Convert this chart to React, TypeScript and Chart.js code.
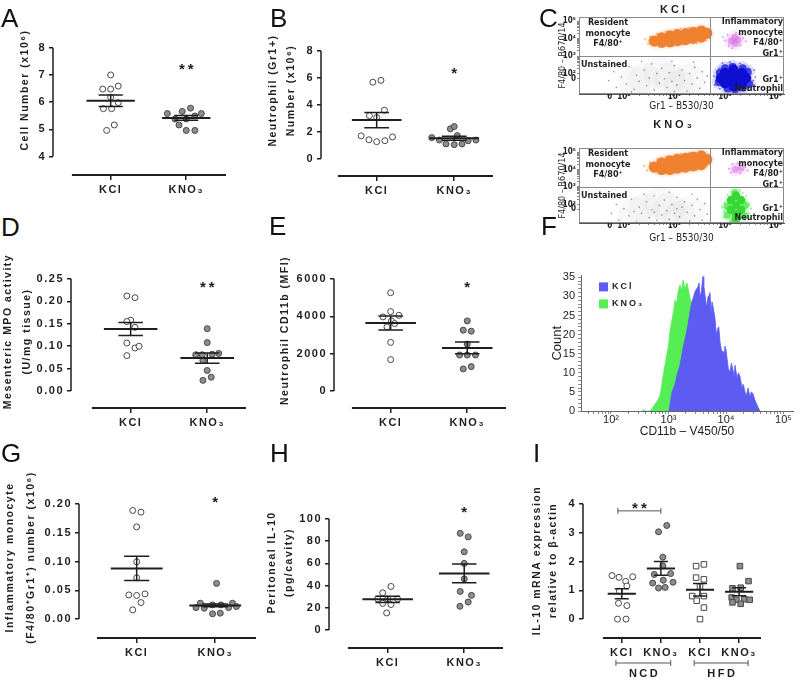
import React, { useEffect, useRef } from 'react';
import { Chart, registerables } from 'chart.js';

Chart.register(...registerables);

const SANS = "'Liberation Sans', Arial, Helvetica, sans-serif";
const NARROW = "'Liberation Sans Narrow', 'DejaVu Sans Condensed', 'Liberation Sans', Arial, sans-serif";
const INK = '#1e1e1e';

// ======================= DATA =======================
const twoGroups = ['KCl', 'KNO₃'];
const fourGroups = ['KCl', 'KNO₃', 'KCl', 'KNO₃'];

// A – peritoneal cell number (x10^6)
const cellKcl = [7.0, 6.48, 6.48, 6.59, 6.18, 5.98, 5.76, 5.76, 5.16, 4.96];
const cellKclJitter = [0, -0.105, 0, 0.1, 0, 0.1, -0.096, 0.013, 0.048, -0.053];
const cellKno3 = [5.58, 5.66, 5.78, 5.58, 5.38, 5.38, 5.49, 5.16, 4.96, 4.96];
const cellKno3Jitter = [-0.25, -0.053, 0.057, 0.2, -0.149, 0, 0.114, -0.096, 0, 0.114];
const cellMean = [6.05, 5.42];
const cellSem = [0.21, 0.09];

// B – neutrophil (Gr1+) number (x10^6)
const neutKcl = [5.66, 5.8, 3.58, 3.18, 3.04, 1.68, 1.39, 1.25, 1.32, 1.6];
const neutKclJitter = [-0.05, 0.055, 0.1, -0.094, 0, -0.2, -0.1, 0, 0.106, 0.205];
const neutKno3 = [2.2, 2.37, 1.7, 1.55, 1.37, 1.08, 1.03, 1.08, 1.32, 1.37];
const neutKno3Jitter = [-0.05, 0, 0.04, -0.29, -0.19, -0.106, 0, 0.1, 0.18, 0.28];
const neutMean = [2.85, 1.51];
const neutSem = [0.57, 0.15];

// D – mesenteric MPO activity (U/mg tissue)
const mpoKcl = [0.212, 0.208, 0.158, 0.155, 0.142, 0.107, 0.096, 0.1, 0.079];
const mpoKclJitter = [-0.05, 0.056, 0, -0.05, 0.056, -0.05, 0.056, 0.11, -0.05];
const mpoKno3 = [0.139, 0.108, 0.081, 0.081, 0.082, 0.084, 0.068, 0.046, 0.024, 0.031];
const mpoKno3Jitter = [0, 0, -0.15, -0.065, 0.065, 0.15, -0.056, 0, -0.056, 0.052];
const mpoMean = [0.1385, 0.0735];
const mpoSem = [0.0145, 0.0115];

// E – neutrophil CD11b (MFI)
const cd11bKcl = [5257, 4248, 3965, 4053, 3752, 3434, 3611, 2602, 1681];
const cd11bKclJitter = [0, 0, -0.1, 0.108, 0.01, -0.048, 0.052, 0, 0];
const cd11bKno3 = [3752, 3257, 3204, 2513, 1929, 1929, 1929, 1186, 1310];
const cd11bKno3Jitter = [0, -0.052, 0.052, 0, -0.1, 0, 0.108, -0.052, 0.052];
const cd11bMean = [3640, 2310];
const cd11bSem = [372, 310];

// G – inflammatory monocyte (F4/80+Gr1+) number (x10^6)
const inflKcl = [0.1885, 0.1856, 0.16, 0.0994, 0.0718, 0.042, 0.041, 0.0437, 0.0287, 0.0161];
const inflKclJitter = [-0.05, 0.055, 0, 0, 0, -0.1, 0, 0.106, 0.055, -0.05];
const inflKno3 = [0.062, 0.0276, 0.0276, 0.019, 0.02, 0.0247, 0.0247, 0.02, 0.0218, 0.0092, 0.0103];
const inflKno3Jitter = [0.017, -0.19, 0.22, -0.14, -0.245, -0.034, 0.072, 0.17, 0.27, -0.034, 0.064];
const inflMean = [0.088, 0.0238];
const inflSem = [0.021, 0.0025];

// H – peritoneal IL-10 (pg/cavity)
const il10Kcl = [39.2, 33.5, 28, 28, 28, 24, 23, 15.4];
const il10KclJitter = [0.043, -0.065, -0.13, 0, 0.13, -0.065, 0.043, -0.013];
const il10Kno3 = [86.9, 83.7, 70.3, 59.9, 46, 34.7, 31.2, 25.2, 21.4];
const il10Kno3Jitter = [-0.052, 0.052, 0, 0, 0, -0.052, 0.095, 0.052, -0.056];
const il10Mean = [27.6, 50.9];
const il10Sem = [2.7, 8.45];

// I – IL-10 mRNA relative to beta-actin (NCD / HFD)
const mrnaNcdKcl = [1.51, 1.45, 1.47, 1.31, 1.15, 0.97, 0.55, 0.47, 0.0, 0.0];
const mrnaNcdKclJitter = [-0.25, -0.07, 0.28, 0.1, 0.13, -0.06, -0.085, 0.13, -0.11, 0.11];
const mrnaNcdKno3 = [3.25, 3.03, 2.15, 1.85, 1.55, 1.35, 1.58, 1.25, 1.28, 1.08, 1.1];
const mrnaNcdKno3Jitter = [0.15, -0.06, 0.05, 0.05, -0.17, 0.06, 0.25, -0.21, 0.31, -0.06, 0.11];
const mrnaHfdKcl = [1.84, 1.9, 1.44, 1.38, 1.13, 0.8, 0.8, 0.64, 0.4, 0.0];
const mrnaHfdKclJitter = [-0.1, 0.1, -0.1, 0.1, 0, -0.2, 0.1, -0.085, 0.1, 0];
const mrnaHfdKno3 = [1.84, 1.32, 1.07, 1.09, 0.75, 0.67, 0.69, 0.67, 0.53, 0.58];
const mrnaHfdKno3Jitter = [0.02, 0.24, -0.17, 0.04, -0.19, -0.07, 0.13, 0.27, 0.04, -0.17];
const mrnaMean = [0.88, 1.76, 1.02, 0.95];
const mrnaSem = [0.17, 0.24, 0.22, 0.14];

// C – flow cytometry events, log10 display units: [Gr1, F4/80]
const flowGateGr1 = 3.7;
const flowGateF480 = 3.0;
const flowTickMajors = [1.72, 2, 3, 4, 5];
const flowTickLabels = ['0', '10²', '10³', '10⁴', '10⁵'];

const kclResidentCore = [[2.6, 3.85], [2.75, 3.78], [2.75, 4.04], [2.91, 3.81], [2.91, 4.15], [3.06, 3.88], [3.06, 4.22], [3.22, 3.94], [3.22, 4.28], [3.37, 4.01], [3.37, 4.35], [3.53, 4.08], [3.53, 4.42], [3.64, 4.3]];
const kclResidentDots = [[2.42, 3.95], [2.48, 3.7], [2.52, 4.12], [2.66, 4.28], [2.7, 3.55], [2.84, 4.42], [2.98, 3.58], [3.02, 4.5], [3.15, 3.65], [3.28, 4.62], [3.45, 3.72], [3.58, 4.68], [3.7, 4.05], [3.68, 4.5], [3.12, 4.58], [3.4, 3.78], [2.58, 3.62], [3.62, 3.9], [2.9, 4.4], [3.5, 4.6]];
const kclInflamCore = [[4.12, 3.85], [4.26, 3.92], [4.19, 4.08], [4.2, 3.72]];
const kclInflamDots = [[4.0, 3.9], [4.36, 4.02], [4.05, 4.22], [4.3, 3.62], [4.08, 3.58], [4.42, 3.85], [4.22, 4.32], [3.96, 4.1], [4.4, 4.2], [4.14, 3.45]];
const kclNeutroCore = [[4.0, 1.45], [4.17, 1.45], [4.34, 1.45], [4.0, 1.74], [4.17, 1.74], [4.34, 1.74], [4.0, 2.03], [4.17, 2.03], [4.34, 2.03], [3.92, 1.74], [4.42, 1.74], [4.17, 2.22], [4.17, 1.28]];
const kclNeutroMid = [[3.88, 1.5], [3.9, 2.05], [4.45, 2.1], [4.48, 1.4], [4.15, 2.38], [4.2, 1.1], [4.05, 1.15], [4.35, 1.2], [4.0, 2.3], [4.35, 2.3]];
const kclNeutroDots = [[3.82, 1.6], [3.85, 2.0], [3.9, 2.3], [4.0, 2.48], [4.2, 2.52], [4.4, 2.38], [4.52, 2.0], [4.56, 1.6], [4.52, 1.25], [4.38, 1.02], [4.1, 0.98], [3.9, 1.12], [3.8, 1.35], [4.6, 1.8], [4.3, 2.58], [3.95, 2.6], [4.46, 1.08], [3.78, 1.85], [4.58, 2.2], [4.1, 2.65]];
const kclUnstainedDots = [[1.7, 1.6], [1.8, 2.1], [1.85, 1.2], [1.95, 1.8], [2.05, 1.4], [2.1, 2.4], [2.2, 1.1], [2.25, 1.9], [2.3, 1.55], [2.4, 2.2], [2.45, 1.3], [2.5, 1.75], [2.55, 2.55], [2.6, 1.05], [2.65, 2.0], [2.7, 1.45], [2.75, 2.3], [2.8, 1.7], [2.85, 1.2], [2.9, 2.05], [2.95, 1.55], [3.0, 2.45], [3.05, 1.35], [3.1, 1.9], [3.15, 2.2], [3.2, 1.6], [3.25, 1.0], [3.3, 2.0], [3.35, 1.4], [3.4, 2.35], [3.45, 1.75], [3.5, 1.15], [3.55, 2.1], [3.6, 1.5], [3.65, 1.85], [2.35, 2.7], [2.95, 2.7], [3.38, 2.65], [2.15, 0.95], [3.0, 0.98]];
const kclUnstainedHaze = [[2.4, 1.7], [2.9, 1.7], [3.3, 1.65], [2.7, 2.1], [3.1, 1.3], [2.2, 1.5]];

const kno3ResidentCore = [[2.6, 4.14], [2.75, 4.0], [2.75, 4.38], [2.91, 4.0], [2.91, 4.5], [3.06, 4.08], [3.06, 4.58], [3.22, 4.14], [3.22, 4.64], [3.37, 4.21], [3.37, 4.71], [3.53, 4.28], [3.53, 4.78], [3.64, 4.57], [3.06, 4.33], [3.22, 4.39], [3.37, 4.46], [2.91, 4.26]];
const kno3ResidentDots = [[2.4, 4.2], [2.46, 3.95], [2.52, 4.4], [2.66, 4.6], [2.7, 3.8], [2.84, 4.75], [2.98, 3.82], [3.02, 4.85], [3.15, 3.9], [3.28, 4.95], [3.45, 3.98], [3.58, 5.0], [3.72, 4.45], [3.68, 4.85], [3.12, 4.9], [3.4, 4.05], [2.58, 3.88], [3.64, 4.2], [2.9, 4.7], [3.5, 4.92]];
const kno3InflamCore = [[4.2, 4.0], [4.32, 4.08]];
const kno3InflamDots = [[4.08, 4.05], [4.4, 4.15], [4.15, 4.3], [4.3, 3.8], [4.12, 3.82], [4.45, 3.95], [4.25, 4.35]];
const kno3NeutroCore = [[4.22, 1.97], [4.12, 1.7], [4.32, 1.7], [4.12, 2.25], [4.32, 2.25], [4.22, 1.45], [4.22, 2.5], [4.22, 1.2]];
const kno3NeutroMid = [[4.05, 1.9], [4.4, 1.95], [4.2, 2.65], [4.18, 1.05], [4.38, 1.35], [4.05, 1.4]];
const kno3NeutroDots = [[3.98, 1.6], [4.0, 2.1], [4.05, 2.55], [4.15, 2.75], [4.3, 2.8], [4.42, 2.5], [4.48, 2.0], [4.46, 1.5], [4.4, 1.15], [4.3, 0.98], [4.1, 1.0], [3.98, 1.25], [4.52, 1.75], [3.95, 1.85], [4.35, 2.65], [4.08, 2.4]];
const kno3UnstainedDots = [[1.75, 1.5], [1.85, 2.0], [1.9, 1.1], [2.0, 1.75], [2.1, 1.35], [2.15, 2.3], [2.25, 1.0], [2.3, 1.85], [2.35, 1.5], [2.45, 2.15], [2.5, 1.25], [2.55, 1.7], [2.6, 2.5], [2.65, 1.1], [2.7, 1.95], [2.75, 1.4], [2.8, 2.25], [2.85, 1.65], [2.9, 1.15], [2.95, 2.0], [3.0, 1.5], [3.05, 2.4], [3.1, 1.3], [3.15, 1.85], [3.2, 2.15], [3.25, 1.55], [3.3, 1.05], [3.35, 1.95], [3.4, 1.35], [3.45, 2.3], [3.5, 1.7], [3.55, 1.1], [3.6, 2.05], [3.65, 1.45], [2.4, 2.6], [2.9, 2.7], [3.35, 2.6], [2.2, 1.6], [2.6, 1.55], [3.05, 1.75]];
const kno3UnstainedHaze = [[2.4, 1.7], [2.9, 1.75], [3.3, 1.6], [2.7, 2.1], [3.1, 1.3], [2.2, 1.5]];

// F – CD11b histogram (fluorescence, count)
const histKclFluor = [1021, 1151, 1298, 1406, 1585, 1787, 2015, 2183, 2366, 2563, 2891, 3260, 3400, 3532, 3700, 3981, 4100, 4313, 4600, 4862, 5000, 5268, 5500, 5708, 6000, 6434, 6800, 7253, 7500, 7863, 8300, 8873, 9200, 9613, 10000, 10410, 11000, 11740, 12400, 13240, 13800, 14350, 15540, 16400, 17520, 18970, 20000, 21380, 22700, 24140, 26140, 27600, 29490, 31950, 34000, 36030, 39020];
const histKclCount = [0, 5, 7, 9.4, 12, 16.4, 20, 22.5, 26, 28.6, 31.2, 32.6, 33.5, 30, 31, 35.2, 33, 30.4, 27, 29.9, 30, 31, 25.5, 28.6, 27, 24.3, 20, 21.7, 22, 18.1, 16, 15.5, 14, 17, 16, 13.8, 11, 10.2, 12.5, 10.7, 9, 12, 8.6, 10, 9, 6, 7, 5, 4, 6, 3.7, 5, 4.5, 2.8, 1.8, 1, 0];
const histKno3Fluor = [360, 400, 477, 537, 630, 711, 750, 802, 869, 941, 1000, 1062, 1151, 1220, 1298, 1380, 1463, 1585, 1700, 1787, 1936, 2098, 2366, 2667, 3007, 3532, 4313, 5268, 6434];
const histKno3Count = [0.4, 0, 0, 1, 2.5, 4, 6, 9, 12, 15, 17, 20.7, 24, 26, 29, 28, 31, 33, 31.5, 34.3, 32, 33.5, 29.6, 27, 22, 15, 8, 3, 0];

// ======================= DOT-PLOT PANELS =======================
const prismPlugin = {
  id: 'prism',
  beforeDraw(chart: any) {
    chart.ctx.letterSpacing = '1.5px';
  },
  afterDatasetsDraw(chart: any, _a: any, o: any) {
    const { ctx, chartArea: ca } = chart;
    const xs = chart.scales.x;
    const ys = chart.scales.y;
    ctx.save();
    ctx.strokeStyle = INK;
    ctx.fillStyle = INK;
    ctx.lineWidth = 1.5;
    ctx.beginPath();
    ctx.moveTo(ca.left, ys.getPixelForValue(o.yTop));
    ctx.lineTo(ca.left, ys.getPixelForValue(o.yBot));
    ctx.stroke();
    ctx.lineWidth = 2;
    ctx.beginPath();
    ctx.moveTo(xs.getPixelForValue(o.xLineMin), ca.bottom);
    ctx.lineTo(ca.right, ca.bottom);
    ctx.stroke();
    for (const s of o.stars) {
      const x1 = xs.getPixelForValue(s.from);
      const x2 = xs.getPixelForValue(s.to);
      const cx = (x1 + x2) / 2;
      const cy = ys.getPixelForValue(s.y);
      ctx.font = `bold 15px ${SANS}`;
      ctx.textAlign = 'center';
      ctx.textBaseline = 'alphabetic';
      ctx.letterSpacing = '3px';
      ctx.fillText(s.text, cx + 1.5, cy + 0.58 * 15);
      if (s.bracket) {
        const by = cy + 7;
        ctx.strokeStyle = '#555';
        ctx.lineWidth = 1;
        ctx.beginPath();
        ctx.moveTo(x1, by - 3); ctx.lineTo(x1, by + 3);
        ctx.moveTo(x1, by); ctx.lineTo(x2, by);
        ctx.moveTo(x2, by - 3); ctx.lineTo(x2, by + 3);
        ctx.stroke();
      }
    }
    for (const g of o.diet || []) {
      const x1 = xs.getPixelForValue(g.from);
      const x2 = xs.getPixelForValue(g.to);
      const by = ca.bottom + 25;
      ctx.strokeStyle = '#555';
      ctx.lineWidth = 1;
      ctx.beginPath();
      ctx.moveTo(x1, by - 3); ctx.lineTo(x1, by + 3);
      ctx.moveTo(x1, by); ctx.lineTo(x2, by);
      ctx.moveTo(x2, by - 3); ctx.lineTo(x2, by + 3);
      ctx.stroke();
      ctx.font = `bold 11px ${SANS}`;
      ctx.textAlign = 'center';
      ctx.textBaseline = 'middle';
      ctx.letterSpacing = '2.5px';
      ctx.fillStyle = INK;
      ctx.fillText(g.text, (x1 + x2) / 2 + 1.25, by + 11);
    }
    ctx.restore();
  },
  afterDraw(chart: any) {
    chart.ctx.letterSpacing = '0px';
  },
};

type Group = { values: number[]; jitter: number[]; filled: boolean; square?: boolean };

function group(values: number[], jitter: number[], filled: boolean, square = false): Group {
  return { values, jitter, filled, square };
}

function buildDot(p: any) {
  const L = p.layout;
  const n = p.cats.length;
  const canvasLeft = Math.floor(L.titleX - L.titleLH / 2 - 2);
  const titlePad = L.titleX - canvasLeft - L.titleLH / 2;
  const canvasTop = Math.max(0, L.chartTop - 4);
  const padTop = L.chartTop - canvasTop;
  const width = L.lineR - canvasLeft + 4;
  const height = L.canvasBottom - canvasTop;
  const yWidth = L.axisX - canvasLeft;
  const xHeight = L.canvasBottom - L.lineY;
  const kx = (L.catNPx - L.cat1Px) / (n - 1);
  const xMin = 1 - (L.cat1Px - L.axisX) / kx;
  const xMax = n + (L.lineR - L.catNPx) / kx;
  const xLineMin = 1 - (L.cat1Px - L.lineL) / kx;
  const yTop = Math.max(...p.yTicks);
  const yBot = Math.min(...p.yTicks);
  const ky = (L.tickBotPx - L.tickTopPx) / (yTop - yBot);
  const yMax = yTop + (L.tickTopPx - L.chartTop) / ky;
  const yMin = yBot - (L.lineY - L.tickBotPx) / ky;

  const make = () => {
    const meanPts: any[] = [];
    const semPts: any[] = [];
    p.groups.forEach((_g: Group, i: number) => {
      const c = i + 1;
      const m = p.mean[i];
      const s = p.sem[i];
      meanPts.push({ x: c - L.meanHalf, y: m }, { x: c + L.meanHalf, y: m }, { x: c, y: null });
      semPts.push(
        { x: c, y: m - s }, { x: c, y: m + s }, { x: c, y: null },
        { x: c - L.capHalf, y: m + s }, { x: c + L.capHalf, y: m + s }, { x: c, y: null },
        { x: c - L.capHalf, y: m - s }, { x: c + L.capHalf, y: m - s }, { x: c, y: null },
      );
    });
    const lineDs = (data: any[], w: number) => ({
      type: 'line', data, showLine: true, spanGaps: false, borderColor: INK, borderWidth: w,
      pointRadius: 0, fill: false, clip: false,
    });
    const dotDs = p.groups.map((g: Group, i: number) => ({
      type: 'scatter',
      data: g.values.map((v, j) => ({ x: i + 1 + g.jitter[j], y: v })),
      pointStyle: g.square ? 'rect' : 'circle',
      pointRadius: g.square ? 3.9 : 3,
      backgroundColor: g.filled ? '#8d8d8d' : '#ffffff',
      borderColor: '#474747',
      borderWidth: 1,
      clip: false,
    }));
    const tickFont = { family: SANS, size: 11, weight: 'bold' };
    return {
      type: 'scatter',
      data: { datasets: [lineDs(meanPts, 2), lineDs(semPts, 1.5), ...dotDs] },
      options: {
        animation: false,
        responsive: false,
        events: [],
        layout: { padding: { top: padTop, right: 4, bottom: 0, left: 0 } },
        plugins: {
          legend: { display: false },
          tooltip: { enabled: false },
          prism: { yTop, yBot, xLineMin, stars: p.stars, diet: p.diet },
        },
        scales: {
          x: {
            type: 'linear', min: xMin, max: xMax, bounds: 'data',
            afterBuildTicks: (s: any) => { s.ticks = p.cats.map((_c: string, i: number) => ({ value: i + 1 })); },
            afterFit: (s: any) => { s.height = xHeight; s.paddingLeft = 0; s.paddingRight = 0; },
            grid: { display: true, drawOnChartArea: false, drawTicks: true, tickLength: 5, color: INK, lineWidth: 1.5 },
            border: { display: false },
            ticks: {
              autoSkip: false, maxRotation: 0, minRotation: 0, padding: 3.4, color: INK, font: tickFont,
              callback: (v: any) => p.cats[Math.round(v) - 1] ?? '',
            },
          },
          y: {
            type: 'linear', min: yMin, max: yMax, bounds: 'data',
            afterBuildTicks: (s: any) => { s.ticks = p.yTicks.map((v: number) => ({ value: v })); },
            afterFit: (s: any) => { s.width = yWidth; s.paddingTop = 0; s.paddingBottom = 0; },
            grid: { display: true, drawOnChartArea: false, drawTicks: true, tickLength: 4, color: INK, lineWidth: 1.5 },
            border: { display: false },
            ticks: {
              autoSkip: false, padding: 3, color: INK, font: tickFont,
              callback: (v: any) => Number(v).toFixed(p.decimals),
            },
            title: {
              display: true, text: p.title, color: INK,
              font: { family: SANS, size: 10.5, weight: 'bold', lineHeight: L.titleLH / 10.5 },
              padding: { top: titlePad, bottom: 0 },
            },
          },
        },
      },
      plugins: [prismPlugin],
    };
  };
  return { rect: { x: canvasLeft, y: canvasTop, w: width, h: height }, make };
}

const panelA = buildDot({
  cats: twoGroups,
  groups: [group(cellKcl, cellKclJitter, false), group(cellKno3, cellKno3Jitter, true)],
  mean: cellMean, sem: cellSem,
  yTicks: [4, 5, 6, 7, 8], decimals: 0,
  title: 'Cell Number (x10⁶)',
  stars: [{ from: 2, to: 2, y: 7.36, text: '**' }],
  layout: { axisX: 53, tickTopPx: 44, tickBotPx: 156, lineY: 175, lineL: 72, lineR: 227, cat1Px: 111, catNPx: 187, chartTop: 0, canvasBottom: 210, titleX: 25, titleLH: 13, meanHalf: 0.32, capHalf: 0.16 },
});

const panelB = buildDot({
  cats: twoGroups,
  groups: [group(neutKcl, neutKclJitter, false), group(neutKno3, neutKno3Jitter, true)],
  mean: neutMean, sem: neutSem,
  yTicks: [0, 2, 4, 6, 8], decimals: 0,
  title: ['Neutrophil (Gr1+)', 'Number (x10⁶)'],
  stars: [{ from: 2, to: 2, y: 6.65, text: '*' }],
  layout: { axisX: 321, tickTopPx: 47, tickBotPx: 158, lineY: 176, lineL: 338, lineR: 494, cat1Px: 377, catNPx: 455, chartTop: 0, canvasBottom: 210, titleX: 273, titleLH: 18, meanHalf: 0.32, capHalf: 0.16 },
});

const panelD = buildDot({
  cats: twoGroups,
  groups: [group(mpoKcl, mpoKclJitter, false), group(mpoKno3, mpoKno3Jitter, true)],
  mean: mpoMean, sem: mpoSem,
  yTicks: [0, 0.05, 0.1, 0.15, 0.2, 0.25], decimals: 2,
  title: ['Mesenteric MPO activity', '(U/mg tissue)'],
  stars: [{ from: 2, to: 2, y: 0.241, text: '**' }],
  layout: { axisX: 71, tickTopPx: 278, tickBotPx: 391, lineY: 408, lineL: 92, lineR: 247, cat1Px: 131, catNPx: 208, chartTop: 254, canvasBottom: 442, titleX: 8, titleLH: 19, meanHalf: 0.35, capHalf: 0.16 },
});

const panelE = buildDot({
  cats: twoGroups,
  groups: [group(cd11bKcl, cd11bKclJitter, false), group(cd11bKno3, cd11bKno3Jitter, true)],
  mean: cd11bMean, sem: cd11bSem,
  yTicks: [0, 2000, 4000, 6000], decimals: 0,
  title: 'Neutrophil CD11b (MFI)',
  stars: [{ from: 2, to: 2, y: 5788, text: '*' }],
  layout: { axisX: 334, tickTopPx: 278, tickBotPx: 391, lineY: 408, lineL: 352, lineR: 507, cat1Px: 391, catNPx: 468, chartTop: 252, canvasBottom: 442, titleX: 285, titleLH: 13, meanHalf: 0.33, capHalf: 0.16 },
});

const panelG = buildDot({
  cats: twoGroups,
  groups: [group(inflKcl, inflKclJitter, false), group(inflKno3, inflKno3Jitter, true)],
  mean: inflMean, sem: inflSem,
  yTicks: [0, 0.05, 0.1, 0.15, 0.2], decimals: 2,
  title: ['Inflammatory monocyte', '(F4/80⁺Gr1⁺) number (x10⁶)'],
  stars: [{ from: 2, to: 2, y: 0.21, text: '*' }],
  layout: { axisX: 79, tickTopPx: 503, tickBotPx: 619, lineY: 638, lineL: 97, lineR: 257, cat1Px: 137, catNPx: 216, chartTop: 476, canvasBottom: 682, titleX: 10, titleLH: 21, meanHalf: 0.33, capHalf: 0.16 },
});

const panelH = buildDot({
  cats: twoGroups,
  groups: [group(il10Kcl, il10KclJitter, false), group(il10Kno3, il10Kno3Jitter, true)],
  mean: il10Mean, sem: il10Sem,
  yTicks: [0, 20, 40, 60, 80, 100], decimals: 0,
  title: ['Peritoneal IL-10', '(pg/cavity)'],
  stars: [{ from: 2, to: 2, y: 109.8, text: '*' }],
  layout: { axisX: 329, tickTopPx: 518, tickBotPx: 630, lineY: 648, lineL: 348, lineR: 504, cat1Px: 388, catNPx: 465, chartTop: 476, canvasBottom: 682, titleX: 272, titleLH: 17, meanHalf: 0.33, capHalf: 0.16 },
});

const panelI = buildDot({
  cats: fourGroups,
  groups: [
    group(mrnaNcdKcl, mrnaNcdKclJitter, false),
    group(mrnaNcdKno3, mrnaNcdKno3Jitter, true),
    group(mrnaHfdKcl, mrnaHfdKclJitter, false, true),
    group(mrnaHfdKno3, mrnaHfdKno3Jitter, true, true),
  ],
  mean: mrnaMean, sem: mrnaSem,
  yTicks: [0, 1, 2, 3, 4], decimals: 0,
  title: ['IL-10 mRNA expression', 'relative to β-actin'],
  stars: [{ from: 0.9, to: 2, y: 4.0, text: '**', bracket: true }],
  diet: [{ from: 0.85, to: 2.25, text: 'NCD' }, { from: 2.85, to: 4.23, text: 'HFD' }],
  layout: { axisX: 583, tickTopPx: 503, tickBotPx: 619, lineY: 638, lineL: 603, lineR: 762, cat1Px: 622, catNPx: 740, chartTop: 482, canvasBottom: 682, titleX: 537, titleLH: 16, meanHalf: 0.36, capHalf: 0.18 },
});

// ======================= FLOW PANELS (C) =======================
const FLOW_STYLE: Record<string, { r: number; c: string }> = {
  greyHaze: { r: 16, c: 'rgba(150,150,150,0.07)' },
  greyDot: { r: 0.8, c: 'rgba(90,90,90,0.7)' },
  orangeHalo: { r: 8, c: 'rgba(245,150,90,0.13)' },
  orangeDot: { r: 0.9, c: 'rgba(245,150,80,0.85)' },
  orangeCore: { r: 5.6, c: '#f0812f' },
  purpleHalo: { r: 7, c: 'rgba(225,140,240,0.18)' },
  purpleDot: { r: 0.9, c: 'rgba(220,120,235,0.85)' },
  purpleCore: { r: 3.5, c: 'rgba(215,110,230,0.55)' },
  blueHalo: { r: 7, c: 'rgba(80,80,240,0.2)' },
  blueDot: { r: 0.9, c: 'rgba(60,60,240,0.8)' },
  blueMid: { r: 4, c: '#3c3ce8' },
  blueCore: { r: 5.2, c: '#0f0fd2' },
  greenHalo: { r: 6.5, c: 'rgba(110,235,110,0.22)' },
  greenDot: { r: 0.9, c: 'rgba(110,235,110,0.85)' },
  greenMid: { r: 3.8, c: '#6aea6a' },
  greenCore: { r: 4.3, c: '#34d934' },
};

const flowMinorTicks: number[] = [];
[2, 3, 4].forEach((d) => { for (let k = 2; k <= 9; k++) flowMinorTicks.push(d + Math.log10(k)); });

const flowPlugin = {
  id: 'flow',
  afterDatasetsDraw(chart: any, _a: any, o: any) {
    const { ctx, chartArea: ca } = chart;
    const xs = chart.scales.x;
    const ys = chart.scales.y;
    ctx.save();
    ctx.strokeStyle = '#8a8a8a';
    ctx.lineWidth = 1;
    ctx.strokeRect(ca.left + 0.5, ca.top + 0.5, ca.right - ca.left - 1, ca.bottom - ca.top - 1);
    const gx = Math.round(xs.getPixelForValue(o.gateX)) + 0.5;
    const gy = Math.round(ys.getPixelForValue(o.gateY)) + 0.5;
    ctx.beginPath();
    ctx.moveTo(gx, ca.top); ctx.lineTo(gx, ca.bottom);
    ctx.moveTo(ca.left, gy); ctx.lineTo(ca.right, gy);
    ctx.stroke();
    ctx.fillStyle = INK;
    ctx.font = `bold 9px ${NARROW}`;
    ctx.textBaseline = 'middle';
    ctx.textAlign = 'center';
    ['Resident', 'monocyte', 'F4/80⁺'].forEach((t, i) => ctx.fillText(t, ca.left + 29, ca.top + 6 + i * 10.5));
    ctx.textAlign = 'left';
    ctx.fillText('Unstained', ca.left + 2, gy + 8);
    ctx.textAlign = 'right';
    ['Inflammatory', 'monocyte', 'F4/80⁺', 'Gr1⁺'].forEach((t, i) => ctx.fillText(t, ca.right - 1, ca.top + 5 + i * 10.5));
    ctx.fillText('Gr1⁺', ca.right - 1, ca.bottom - 14.5);
    ctx.fillText('Neutrophil', ca.right - 1, ca.bottom - 5);
    ctx.font = `bold 11px ${SANS}`;
    ctx.letterSpacing = '3px';
    ctx.textAlign = 'center';
    ctx.fillText(o.title, chart.width / 2 + 1.5, o.titleY);
    ctx.restore();
  },
};

function buildFlow(spec: any) {
  const rect = { x: 545, y: spec.canvasTop, w: 255, h: spec.canvasHeight };
  const chartLeft = 579;
  const chartRight = 789;
  const make = () => {
    const ds = spec.clouds.map((c: any) => ({
      type: 'scatter',
      data: c.points.map((p: number[]) => ({ x: p[0], y: p[1] })),
      pointRadius: FLOW_STYLE[c.style].r,
      backgroundColor: FLOW_STYLE[c.style].c,
      borderWidth: 0,
      clip: true,
    }));
    const allTicks = [...flowTickMajors, ...flowMinorTicks].sort((a, b) => a - b);
    const label = (v: number) => {
      const i = flowTickMajors.findIndex((m) => Math.abs(m - v) < 1e-6);
      return i >= 0 ? flowTickLabels[i] : '';
    };
    const tickFont = { family: NARROW, size: 8, weight: 'bold' };
    return {
      type: 'scatter',
      data: { datasets: ds },
      options: {
        animation: false,
        responsive: false,
        events: [],
        layout: { padding: { top: spec.chartTop - spec.canvasTop, right: 800 - chartRight, bottom: 0, left: 0 } },
        plugins: {
          legend: { display: false },
          tooltip: { enabled: false },
          flow: { gateX: flowGateGr1, gateY: flowGateF480, title: spec.title, titleY: spec.titleY - spec.canvasTop },
        },
        scales: {
          x: {
            type: 'linear', min: 1.11, max: 5.17, bounds: 'data',
            afterBuildTicks: (s: any) => { s.ticks = allTicks.map((v) => ({ value: v })); },
            afterFit: (s: any) => { s.height = spec.canvasTop + spec.canvasHeight - spec.chartBottom; s.paddingLeft = 0; s.paddingRight = 0; },
            grid: { display: true, drawOnChartArea: false, tickLength: 2, color: '#888' },
            border: { display: true, color: '#555' },
            ticks: { autoSkip: false, maxRotation: 0, padding: spec.xLabelPad, color: INK, font: tickFont, callback: (v: any) => label(v) },
            title: { display: true, text: 'Gr1 – B530/30', color: INK, font: { family: NARROW, size: 10 }, padding: { top: 0, bottom: 0 } },
          },
          y: {
            type: 'linear', min: spec.yMin, max: 5.23, bounds: 'data',
            afterBuildTicks: (s: any) => { s.ticks = allTicks.map((v) => ({ value: v })); },
            afterFit: (s: any) => { s.width = chartLeft - 545; s.paddingTop = 0; s.paddingBottom = 0; },
            grid: { display: true, drawOnChartArea: false, tickLength: 2, color: '#888' },
            border: { display: true, color: '#555' },
            ticks: { autoSkip: false, padding: 1, color: INK, font: tickFont, callback: (v: any) => label(v) },
            title: { display: true, text: 'F4/80 – R670/14', color: INK, font: { family: NARROW, size: 9 }, padding: { top: 12.6, bottom: 0 } },
          },
        },
      },
      plugins: [flowPlugin],
    };
  };
  return { rect, make };
}

const panelC1 = buildFlow({
  title: 'KCl', titleY: 10, canvasTop: 0, canvasHeight: 112, chartTop: 17, chartBottom: 94, yMin: 0.83, xLabelPad: -4,
  clouds: [
    { points: kclNeutroCore, style: 'blueCore' },
    { points: kclNeutroMid, style: 'blueMid' },
    { points: kclNeutroDots, style: 'blueDot' },
    { points: kclNeutroMid, style: 'blueHalo' },
    { points: kclInflamCore, style: 'purpleCore' },
    { points: kclInflamDots, style: 'purpleDot' },
    { points: kclInflamCore, style: 'purpleHalo' },
    { points: kclResidentCore, style: 'orangeCore' },
    { points: kclResidentDots, style: 'orangeDot' },
    { points: kclResidentCore, style: 'orangeHalo' },
    { points: kclUnstainedDots, style: 'greyDot' },
    { points: kclUnstainedHaze, style: 'greyHaze' },
  ],
});

const panelC2 = buildFlow({
  title: 'KNO₃', titleY: 125, canvasTop: 115, canvasHeight: 129, chartTop: 148, chartBottom: 223, yMin: 0.94, xLabelPad: -3.7,
  clouds: [
    { points: kno3NeutroCore, style: 'greenCore' },
    { points: kno3NeutroMid, style: 'greenMid' },
    { points: kno3NeutroDots, style: 'greenDot' },
    { points: kno3NeutroMid, style: 'greenHalo' },
    { points: kno3InflamCore, style: 'purpleCore' },
    { points: kno3InflamDots, style: 'purpleDot' },
    { points: kno3InflamCore, style: 'purpleHalo' },
    { points: kno3ResidentCore, style: 'orangeCore' },
    { points: kno3ResidentDots, style: 'orangeDot' },
    { points: kno3ResidentCore, style: 'orangeHalo' },
    { points: kno3UnstainedDots, style: 'greyDot' },
    { points: kno3UnstainedHaze, style: 'greyHaze' },
  ],
});

// ======================= HISTOGRAM (F) =======================
const BLUE = '#5c5cf2';
const GREEN = '#55ee55';
const SUP: Record<number, string> = { 2: '²', 3: '³', 4: '⁴', 5: '⁵' };

const histLegendPlugin = {
  id: 'histLegend',
  afterDatasetsDraw(chart: any) {
    const { ctx, chartArea: ca } = chart;
    ctx.save();
    chart.data.datasets.forEach((d: any, i: number) => {
      const y = ca.top + 7 + i * 17;
      ctx.fillStyle = d.backgroundColor;
      ctx.fillRect(ca.left + 18, y, 9, 9);
      ctx.fillStyle = INK;
      ctx.font = `bold 9px ${SANS}`;
      ctx.letterSpacing = '2px';
      ctx.textAlign = 'left';
      ctx.textBaseline = 'middle';
      ctx.fillText(d.label, ca.left + 31, y + 4.5);
    });
    ctx.restore();
  },
};

function buildHist() {
  const rect = { x: 545, y: 250, w: 255, h: 190 };
  const make = () => {
    const xTicks: number[] = [];
    for (let d = 1; d <= 4; d++) for (let k = 1; k <= 9; k++) { const v = k * Math.pow(10, d); if (v >= 30.1) xTicks.push(v); }
    xTicks.push(100000);
    const yTicks: number[] = [];
    for (let v = 0; v <= 35; v++) yTicks.push(v);
    const series = (xs: number[], ys: number[]) => xs.map((x, i) => ({ x, y: ys[i] }));
    return {
      type: 'line',
      data: {
        datasets: [
          { label: 'KCl', data: series(histKclFluor, histKclCount), borderColor: BLUE, backgroundColor: BLUE, fill: 'origin', pointRadius: 0, borderWidth: 0.8, tension: 0 },
          { label: 'KNO₃', data: series(histKno3Fluor, histKno3Count), borderColor: GREEN, backgroundColor: GREEN, fill: 'origin', pointRadius: 0, borderWidth: 0.8, tension: 0 },
        ],
      },
      options: {
        animation: false,
        responsive: false,
        events: [],
        layout: { padding: { top: 25.4, right: 7, bottom: 0, left: 0 } },
        plugins: { legend: { display: false }, tooltip: { enabled: false } },
        scales: {
          x: {
            type: 'logarithmic', min: 30.1, max: 146200,
            afterBuildTicks: (s: any) => { s.ticks = xTicks.map((v) => ({ value: v })); },
            afterFit: (s: any) => { s.height = 29; s.paddingLeft = 0; s.paddingRight = 0; },
            grid: { display: true, drawOnChartArea: false, tickLength: 3, color: '#888' },
            border: { display: true, color: '#666' },
            ticks: {
              autoSkip: false, maxRotation: 0, padding: -0.6, color: INK, font: { family: SANS, size: 11 },
              callback: (v: any) => {
                const l = Math.log10(Number(v));
                const r = Math.round(l);
                return Math.abs(l - r) < 1e-6 && SUP[r] ? '10' + SUP[r] : '';
              },
            },
            title: { display: true, text: 'CD11b – V450/50', color: INK, font: { family: SANS, size: 12 }, padding: { top: 0, bottom: 1.2 } },
          },
          y: {
            type: 'linear', min: 0, max: 35.5, bounds: 'data',
            afterBuildTicks: (s: any) => { s.ticks = yTicks.map((v) => ({ value: v })); },
            afterFit: (s: any) => { s.width = 36; s.paddingTop = 0; s.paddingBottom = 0; },
            grid: { display: true, drawOnChartArea: false, tickLength: 3, color: '#888' },
            border: { display: true, color: '#666' },
            ticks: { autoSkip: false, padding: 3, color: INK, font: { family: SANS, size: 11 }, callback: (v: any) => (Number(v) % 5 === 0 ? String(v) : '') },
            title: { display: true, text: 'Count', color: INK, font: { family: SANS, size: 13 }, padding: { top: 4.2, bottom: 0 } },
          },
        },
      },
      plugins: [histLegendPlugin],
    };
  };
  return { rect, make };
}

const panelF = buildHist();

// ======================= REACT =======================
function ChartBox({ rect, make }: { rect: { x: number; y: number; w: number; h: number }; make: () => any }) {
  const ref = useRef<HTMLCanvasElement | null>(null);
  useEffect(() => {
    const chart = new Chart(ref.current as HTMLCanvasElement, make());
    return () => chart.destroy();
  }, []);
  return (
    <canvas
      ref={ref}
      width={rect.w}
      height={rect.h}
      style={{ position: 'absolute', left: rect.x, top: rect.y, width: rect.w, height: rect.h }}
    />
  );
}

const panels = [panelA, panelB, panelC1, panelC2, panelD, panelE, panelF, panelG, panelH, panelI];
const letters: [string, number, number][] = [
  ['A', 1, 4.6], ['B', 270, 4.6], ['C', 539, 4.6],
  ['D', 1, 213.6], ['E', 269, 212.6], ['F', 541, 212.6],
  ['G', 1, 439.6], ['H', 270, 439.6], ['I', 533, 439.6],
];

export default function App() {
  return (
    <div style={{ position: 'absolute', left: 0, top: 0, width: 800, height: 682, background: '#ffffff', overflow: 'hidden' }}>
      {panels.map((p, i) => (
        <ChartBox key={i} rect={p.rect} make={p.make} />
      ))}
      {letters.map(([t, x, y]) => (
        <div key={t} style={{ position: 'absolute', left: x, top: y, fontFamily: SANS, fontSize: 26, lineHeight: '26px', color: '#111' }}>
          {t}
        </div>
      ))}
    </div>
  );
}
